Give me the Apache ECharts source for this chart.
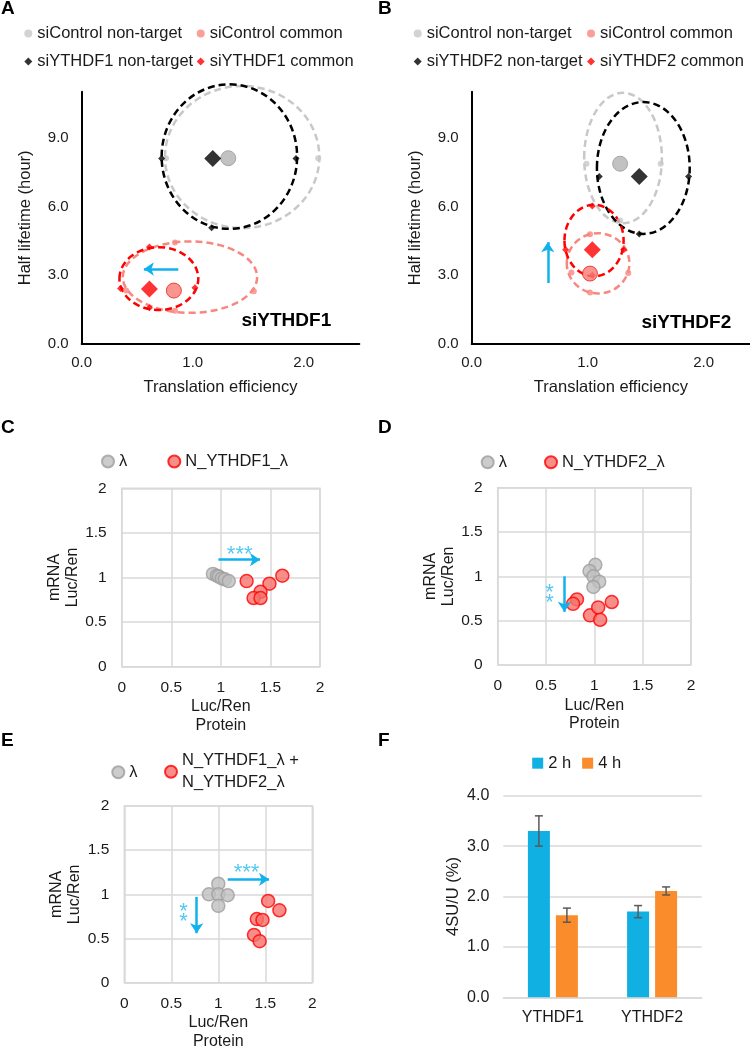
<!DOCTYPE html>
<html><head><meta charset="utf-8">
<script src="https://cdn.jsdelivr.net/npm/echarts@6/dist/echarts.min.js"></script>
<style>html,body{margin:0;padding:0;background:#fff}#c{width:750px;height:1050px}</style>
</head><body><div id="c"></div>
<script>
// ================= DATA =================
// Panels A & B (x = translation efficiency, y = half lifetime, hours)
// *_center: group centre; *_box: dashed ring extent [xMin, xMax, yMin, yMax]; *_pts: ring anchor points
const A_ctrlNT_center = [[1.32, 8.10]];
const A_ctrlNT_box    = [0.75, 2.14, 5.05, 11.25];
const A_ctrlNT_pts    = [[0.76, 8.10], [2.13, 8.10]];
const A_f1NT_center   = [[1.18, 8.09]];
const A_f1NT_box      = [0.72, 1.94, 5.02, 11.32];
const A_f1NT_pts      = [[0.72, 8.09], [1.93, 8.09], [1.17, 5.07]];
const A_ctrlCom_center= [[0.83, 2.33]];
const A_ctrlCom_box   = [0.37, 1.58, 1.36, 4.47];
const A_ctrlCom_pts   = [[0.40, 2.33], [0.84, 4.42], [1.55, 2.30], [0.84, 1.45]];
const A_f1Com_center  = [[0.61, 2.40]];
const A_f1Com_box     = [0.34, 1.05, 1.48, 4.22];
const A_f1Com_pts     = [[0.35, 2.42], [0.61, 4.23], [1.02, 2.45], [0.61, 1.58]];
const A_arrow = [[0.87, 3.27], [0.56, 3.27]];

const B_ctrlNT_center = [[1.28, 7.86]];
const B_ctrlNT_box    = [0.97, 1.64, 5.27, 10.95];
const B_ctrlNT_pts    = [[0.99, 7.86], [1.63, 7.86], [1.28, 5.38]];
const B_f2NT_center   = [[1.445, 7.30]];
const B_f2NT_box      = [1.08, 1.88, 4.80, 10.55];
const B_f2NT_pts      = [[1.10, 7.30], [1.87, 7.30], [1.445, 4.80]];
const B_ctrlCom_center= [[1.02, 3.07]];
const B_ctrlCom_box   = [0.82, 1.36, 2.20, 4.83];
const B_ctrlCom_pts   = [[0.86, 3.12], [1.02, 4.78], [1.35, 3.10], [1.02, 2.25]];
const B_f2Com_center  = [[1.04, 4.11]];
const B_f2Com_box     = [0.80, 1.31, 2.95, 6.07];
const B_f2Com_pts     = [[0.81, 4.11], [1.04, 6.02], [1.31, 4.11], [1.04, 3.00]];
const B_arrow = [[0.656, 2.66], [0.656, 4.44]];

const AB_xTicks = [0, 1, 2];
const AB_yTicks = [0, 3, 6, 9];

// Panels C, D, E: [protein Luc/Ren, mRNA Luc/Ren]
const C_lambda = [[0.92, 1.04], [0.96, 1.02], [0.98, 1.01], [1.01, 0.99], [1.04, 0.98], [1.08, 0.96]];
const C_f1     = [[1.26, 0.96], [1.49, 0.93], [1.62, 1.02], [1.40, 0.84], [1.33, 0.77], [1.40, 0.77]];
const C_arrow  = [[0.975, 1.20], [1.395, 1.20]];
const C_star   = [1.19, 1.25];

const D_lambda = [[1.01, 1.13], [0.95, 1.06], [0.99, 1.00], [1.05, 0.94], [0.99, 0.88]];
const D_f2     = [[0.82, 0.74], [0.78, 0.69], [0.955, 0.56], [1.04, 0.65], [1.06, 0.51], [1.18, 0.71]];
const D_arrow  = [[0.69, 1.00], [0.69, 0.60]];
const D_star   = [0.535, 0.76];

const E_lambda = [[1.00, 1.12], [0.90, 1.00], [1.00, 1.00], [1.10, 0.99], [1.00, 0.87]];
const E_f12    = [[1.53, 0.925], [1.65, 0.82], [1.41, 0.72], [1.47, 0.71], [1.38, 0.54], [1.44, 0.47]];
const E_arrowH = [[1.10, 1.17], [1.54, 1.17]];
const E_arrowV = [[0.77, 0.97], [0.77, 0.56]];
const E_starH  = [1.30, 1.24];
const E_starV  = [0.63, 0.74];

// Panel F
const F_categories = ['YTHDF1', 'YTHDF2'];
const F_2h = [3.30, 1.70];
const F_2h_err = [0.30, 0.12];
const F_4h = [1.63, 2.11];
const F_4h_err = [0.14, 0.08];

// ================= STYLE =================
const FONT = 'Liberation Sans, Arial, sans-serif';
const TXT = '#1a1a1a';
const CYAN = '#10b2ee';
const GRID_C = '#d9d9d9';
const BAR_W = 22, BAR_GAP_PX = 6;

const chart = echarts.init(document.getElementById('c'), null, {renderer: 'canvas'});

function ringSeries(box, color, width, gi) {
  return {
    type: 'custom', xAxisIndex: gi, yAxisIndex: gi, clip: false, silent: true, z: 2,
    data: [box],
    renderItem(params, api) {
      const p1 = api.coord([api.value(0), api.value(2)]);
      const p2 = api.coord([api.value(1), api.value(3)]);
      const cx = (p1[0] + p2[0]) / 2, cy = (p1[1] + p2[1]) / 2;
      const rx = Math.abs(p2[0] - p1[0]) / 2, ry = Math.abs(p2[1] - p1[1]) / 2, k = 0.5523;
      const d = `M${cx - rx},${cy} ` +
        `C${cx - rx},${cy - k * ry} ${cx - k * rx},${cy - ry} ${cx},${cy - ry} ` +
        `C${cx + k * rx},${cy - ry} ${cx + rx},${cy - k * ry} ${cx + rx},${cy} ` +
        `C${cx + rx},${cy + k * ry} ${cx + k * rx},${cy + ry} ${cx},${cy + ry} ` +
        `C${cx - k * rx},${cy + ry} ${cx - rx},${cy + k * ry} ${cx - rx},${cy} Z`;
      return {type: 'path', shape: {pathData: d}, style: {fill: 'none', stroke: color, lineWidth: width, lineDash: [7, 4]}};
    }
  };
}
function anchorSeries(pts, symbol, size, color, gi) {
  return {
    type: 'scatter', xAxisIndex: gi, yAxisIndex: gi, silent: true, z: 3, clip: true,
    symbol, symbolSize: size, itemStyle: {color}, data: pts
  };
}
function centerSeries(name, data, symbol, size, color, border, gi, extra) {
  return Object.assign({
    name, type: 'scatter', xAxisIndex: gi, yAxisIndex: gi, z: 5, symbol, symbolSize: size,
    itemStyle: {color, borderColor: border, borderWidth: border ? 1 : 0}, data
  }, extra || {});
}
function arrowLine(pairs) {
  return {
    silent: true, symbol: ['none', 'arrow'], symbolSize: 10, animation: false,
    lineStyle: {color: CYAN, width: 2.5, type: 'solid'}, label: {show: false},
    emphasis: {disabled: true},
    data: pairs.map(p => [{coord: p[0]}, {coord: p[1]}])
  };
}
function stars(items) {
  return {
    silent: true, animation: false, symbol: 'rect', symbolSize: 1, itemStyle: {color: 'rgba(0,0,0,0)'},
    data: items.map(it => ({coord: it.coord, label: {show: true, position: 'inside', formatter: it.text,
      color: '#55c8f2', fontSize: 22, fontFamily: FONT, lineHeight: it.lh || 22}}))
  };
}

function abXAxis(gi, max) {
  return {gridIndex: gi, type: 'value', min: 0, max, interval: 1,
    name: 'Translation efficiency', nameLocation: 'middle', nameGap: 35,
    nameTextStyle: {fontSize: 16.5, color: TXT, fontFamily: FONT},
    axisLine: {show: true, onZero: false, lineStyle: {color: '#000', width: 2}},
    axisTick: {show: false}, splitLine: {show: false},
    axisLabel: {fontSize: 15, color: TXT, fontFamily: FONT, margin: 11, showMaxLabel: true,
      formatter: v => AB_xTicks.includes(v) ? v.toFixed(1) : ''}};
}
function abYAxis(gi) {
  return {gridIndex: gi, type: 'value', min: 0, max: 11, interval: 3,
    name: 'Half lifetime (hour)', nameLocation: 'middle', nameGap: 48,
    nameTextStyle: {fontSize: 16.5, color: TXT, fontFamily: FONT},
    axisLine: {show: true, onZero: false, lineStyle: {color: '#000', width: 2}},
    axisTick: {show: false}, splitLine: {show: false},
    axisLabel: {fontSize: 15, color: TXT, fontFamily: FONT, margin: 13,
      formatter: v => AB_yTicks.includes(v) ? v.toFixed(1) : ''}};
}
function sqXAxis(gi) {
  return {gridIndex: gi, type: 'value', min: 0, max: 2, interval: 0.5,
    name: 'Luc/Ren\nProtein', nameLocation: 'middle', nameGap: 31,
    nameTextStyle: {fontSize: 16, color: TXT, fontFamily: FONT, lineHeight: 18.3},
    axisLine: {show: false}, axisTick: {show: false},
    splitLine: {show: true, lineStyle: {color: GRID_C, width: 1.5}},
    axisLabel: {fontSize: 15.5, color: TXT, fontFamily: FONT, margin: 13}};
}
function sqYAxis(gi) {
  return {gridIndex: gi, type: 'value', min: 0, max: 2, interval: 0.5,
    name: 'mRNA\nLuc/Ren', nameLocation: 'middle', nameGap: 40,
    nameTextStyle: {fontSize: 16, color: TXT, fontFamily: FONT, lineHeight: 18},
    axisLine: {show: false}, axisTick: {show: false},
    splitLine: {show: true, lineStyle: {color: GRID_C, width: 1.5}},
    axisLabel: {fontSize: 15.5, color: TXT, fontFamily: FONT, margin: 15}};
}

const grayPt = {color: '#bfbfbf', borderColor: '#9e9e9e', borderWidth: 1.5};
const redPt = {color: '#f5726c', borderColor: '#ff0000', borderWidth: 1.5};

function legendOne(name, left, top, w, h, extra) {
  return Object.assign({
    data: [name], left, top, padding: 0, itemWidth: w, itemHeight: h, itemGap: 10, selectedMode: false,
    textStyle: {fontSize: 16.5, color: TXT, fontFamily: FONT}
  }, extra || {});
}

const E_redName = 'N_YTHDF1_λ +\nN_YTHDF2_λ';

function errSeries(vals, errs, side) {
  return {
    type: 'custom', xAxisIndex: 5, yAxisIndex: 5, silent: true, z: 6,
    data: vals.map((v, i) => [i, v, errs[i]]),
    renderItem(params, api) {
      const i = api.value(0), v = api.value(1), e = api.value(2);
      const off = side * (BAR_W + BAR_GAP_PX) / 2;
      const x = api.coord([i, v])[0] + off;
      const yt = api.coord([i, v + e])[1], yb = api.coord([i, v - e])[1];
      const st = {stroke: '#595959', lineWidth: 1.5};
      return {type: 'group', children: [
        {type: 'line', shape: {x1: x, y1: yt, x2: x, y2: yb}, style: st},
        {type: 'line', shape: {x1: x - 4, y1: yt, x2: x + 4, y2: yt}, style: st},
        {type: 'line', shape: {x1: x - 4, y1: yb, x2: x + 4, y2: yb}, style: st}
      ]};
    }
  };
}

const option = {
  animation: false,
  backgroundColor: '#fff',
  textStyle: {fontFamily: FONT},
  grid: [
    {left: 81.7, top: 91.7, width: 277.6, height: 252.3},
    {left: 471.7, top: 91.7, width: 278.3, height: 252.3},
    {left: 121.7, top: 488.3, width: 198.3, height: 178.4, show: true, borderColor: GRID_C, borderWidth: 1.5},
    {left: 497.7, top: 487.7, width: 193.3, height: 177.3, show: true, borderColor: GRID_C, borderWidth: 1.5},
    {left: 124.3, top: 806, width: 188, height: 176.7, show: true, borderColor: GRID_C, borderWidth: 1.5},
    {left: 503.3, top: 795.7, width: 198.4, height: 201.6}
  ].map(g => Object.assign({containLabel: false, outerBoundsMode: 'none'}, g)),
  xAxis: [
    abXAxis(0, 2.5), abXAxis(1, 2.4), sqXAxis(2), sqXAxis(3), sqXAxis(4),
    {gridIndex: 5, type: 'category', data: F_categories,
      axisLine: {show: true, lineStyle: {color: GRID_C, width: 1.5}}, axisTick: {show: false},
      axisLabel: {fontSize: 16, color: TXT, fontFamily: FONT, margin: 12}}
  ],
  yAxis: [
    abYAxis(0), abYAxis(1), sqYAxis(2), sqYAxis(3), sqYAxis(4),
    {gridIndex: 5, type: 'value', min: 0, max: 4, interval: 1,
      name: '4SU/U (%)', nameLocation: 'middle', nameGap: 41,
      nameTextStyle: {fontSize: 16.5, color: TXT, fontFamily: FONT},
      axisLine: {show: false}, axisTick: {show: false},
      splitLine: {show: true, lineStyle: {color: GRID_C, width: 1.5}},
      axisLabel: {fontSize: 16, color: TXT, fontFamily: FONT, margin: 14, formatter: v => v.toFixed(1)}}
  ],
  legend: [
    legendOne('siControl non-target', 24.3, 25, 8, 8, {data: [{name: 'siControl non-target', itemStyle: {color: '#c8c8c8', borderWidth: 0}}]}),
    legendOne('siControl common', 196.7, 25, 8, 8, {data: [{name: 'siControl common', itemStyle: {color: '#f8877f', borderWidth: 0}}]}),
    legendOne('siYTHDF1 non-target', 24.3, 53, 8, 8),
    legendOne('siYTHDF1 common', 196.7, 53, 8, 8),
    legendOne('siControl non-target', 413.7, 25, 8, 8, {data: [{name: 'siControl non-target', itemStyle: {color: '#c8c8c8', borderWidth: 0}}]}),
    legendOne('siControl common', 587, 25, 8, 8, {data: [{name: 'siControl common', itemStyle: {color: '#f8877f', borderWidth: 0}}]}),
    legendOne('siYTHDF2 non-target', 413.7, 53, 8, 8),
    legendOne('siYTHDF2 common', 587, 53, 8, 8),
    legendOne('λ', 101, 453, 12, 12),
    legendOne('N_YTHDF1_λ', 167.3, 453, 12, 12),
    legendOne('λ', 480.7, 453.7, 12, 12),
    legendOne('N_YTHDF2_λ', 544, 453.7, 12, 12),
    legendOne('λ', 111.3, 763.7, 12, 12),
    legendOne(E_redName, 164, 739.3, 12, 12, {textStyle: {fontSize: 16.5, color: TXT, fontFamily: FONT, lineHeight: 21.6, padding: [21.6, 0, 0, 0]}}),
    {data: [{name: '2 h', icon: 'rect'}, {name: '4 h', icon: 'rect'}], left: 532.2, top: 754.7, padding: 0,
      itemWidth: 11, itemHeight: 11, itemGap: 11, selectedMode: false,
      textStyle: {fontSize: 16.5, color: TXT, fontFamily: FONT}}
  ],
  series: [
    // ---- Panel A ----
    ringSeries(A_ctrlNT_box, '#c8c8c8', 2.5, 0),
    ringSeries(A_f1NT_box, '#000000', 2.5, 0),
    ringSeries(A_ctrlCom_box, '#f8877f', 2.5, 0),
    ringSeries(A_f1Com_box, '#ff0000', 2.5, 0),
    anchorSeries(A_ctrlNT_pts, 'circle', 6, '#c8c8c8', 0),
    anchorSeries(A_f1NT_pts, 'diamond', 7, '#000000', 0),
    anchorSeries(A_ctrlCom_pts, 'circle', 6, '#f8877f', 0),
    anchorSeries(A_f1Com_pts, 'diamond', 7, '#ff0000', 0),
    centerSeries('siControl non-target', A_ctrlNT_center, 'circle', 15, '#b3b3b3', '#999999', 0),
    centerSeries('siYTHDF1 non-target', A_f1NT_center, 'diamond', 17, '#000000', null, 0),
    centerSeries('siControl common', A_ctrlCom_center, 'circle', 15, '#f77b72', '#e8221c', 0),
    centerSeries('siYTHDF1 common', A_f1Com_center, 'diamond', 17, '#ff0000', null, 0, {markLine: arrowLine([A_arrow])}),
    // ---- Panel B ----
    ringSeries(B_ctrlNT_box, '#c8c8c8', 2.5, 1),
    ringSeries(B_f2NT_box, '#000000', 2.5, 1),
    ringSeries(B_ctrlCom_box, '#f8877f', 2.5, 1),
    ringSeries(B_f2Com_box, '#ff0000', 2.5, 1),
    anchorSeries(B_ctrlNT_pts, 'circle', 6, '#c8c8c8', 1),
    anchorSeries(B_f2NT_pts, 'diamond', 7, '#000000', 1),
    anchorSeries(B_ctrlCom_pts, 'circle', 6, '#f8877f', 1),
    anchorSeries(B_f2Com_pts, 'diamond', 7, '#ff0000', 1),
    centerSeries('siControl non-target', B_ctrlNT_center, 'circle', 15, '#b3b3b3', '#999999', 1),
    centerSeries('siYTHDF2 non-target', B_f2NT_center, 'diamond', 17, '#000000', null, 1),
    centerSeries('siControl common', B_ctrlCom_center, 'circle', 15, '#f77b72', '#e8221c', 1),
    centerSeries('siYTHDF2 common', B_f2Com_center, 'diamond', 17, '#ff0000', null, 1, {markLine: arrowLine([B_arrow])}),
    // ---- Panel C ----
    {name: 'λ', type: 'scatter', xAxisIndex: 2, yAxisIndex: 2, symbolSize: 13, itemStyle: grayPt, data: C_lambda, z: 4},
    {name: 'N_YTHDF1_λ', type: 'scatter', xAxisIndex: 2, yAxisIndex: 2, symbolSize: 13, itemStyle: redPt, data: C_f1, z: 4,
      markLine: arrowLine([C_arrow]), markPoint: stars([{coord: C_star, text: '***'}])},
    // ---- Panel D ----
    {name: 'λ', type: 'scatter', xAxisIndex: 3, yAxisIndex: 3, symbolSize: 13, itemStyle: grayPt, data: D_lambda, z: 4},
    {name: 'N_YTHDF2_λ', type: 'scatter', xAxisIndex: 3, yAxisIndex: 3, symbolSize: 13, itemStyle: redPt, data: D_f2, z: 4,
      markLine: arrowLine([D_arrow]), markPoint: stars([{coord: D_star, text: '*\n*', lh: 10}])},
    // ---- Panel E ----
    {name: 'λ', type: 'scatter', xAxisIndex: 4, yAxisIndex: 4, symbolSize: 13, itemStyle: grayPt, data: E_lambda, z: 4},
    {name: E_redName, type: 'scatter', xAxisIndex: 4, yAxisIndex: 4, symbolSize: 13, itemStyle: redPt, data: E_f12, z: 4,
      markLine: arrowLine([E_arrowH, E_arrowV]),
      markPoint: stars([{coord: E_starH, text: '***'}, {coord: E_starV, text: '*\n*', lh: 10}])},
    // ---- Panel F ----
    {name: '2 h', type: 'bar', xAxisIndex: 5, yAxisIndex: 5, data: F_2h, barWidth: BAR_W,
      barGap: (BAR_GAP_PX / BAR_W * 100) + '%', itemStyle: {color: '#10b0e2'}},
    {name: '4 h', type: 'bar', xAxisIndex: 5, yAxisIndex: 5, data: F_4h, barWidth: BAR_W,
      itemStyle: {color: '#fb8c2b'}},
    errSeries(F_2h, F_2h_err, -1),
    errSeries(F_4h, F_4h_err, 1)
  ],
  graphic: [
    ...[['A', 1, 9], ['B', 378, 9], ['C', 1, 428], ['D', 378, 428], ['E', 1, 741.5], ['F', 378, 741]].map(t => ({
      type: 'text', left: t[1], top: t[2] - 10, silent: true,
      style: {text: t[0], fontSize: 19, fontWeight: 'bold', fontFamily: FONT, fill: '#000'}})),
    {type: 'text', left: 241.5, top: 311, silent: true,
      style: {text: 'siYTHDF1', fontSize: 19, fontWeight: 'bold', fontFamily: FONT, fill: '#000'}},
    {type: 'text', left: 641.5, top: 313, silent: true,
      style: {text: 'siYTHDF2', fontSize: 19, fontWeight: 'bold', fontFamily: FONT, fill: '#000'}}
  ]
};

chart.setOption(option);
</script>
</body></html>
